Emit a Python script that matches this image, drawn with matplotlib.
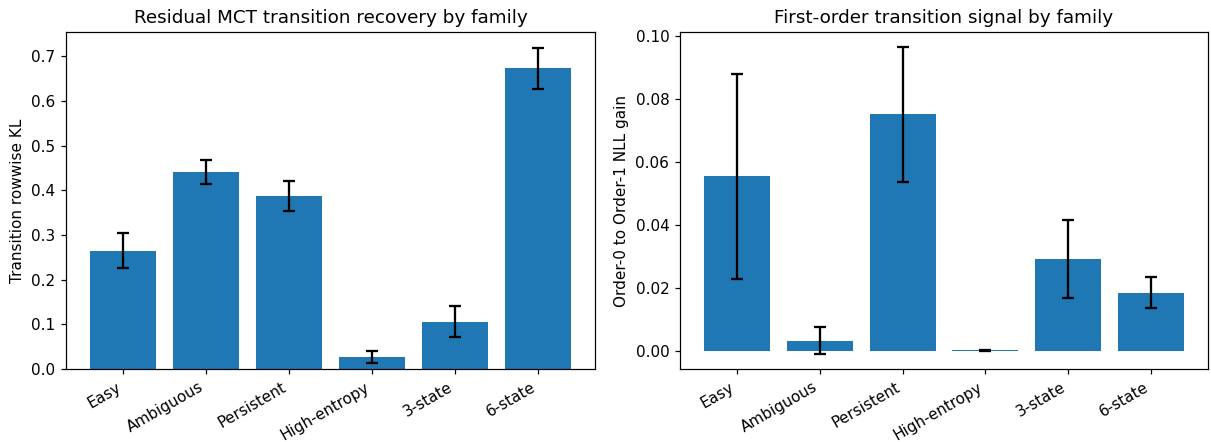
import matplotlib
matplotlib.use("Agg")
import matplotlib.pyplot as plt
import numpy as np

families = ["Easy", "Ambiguous", "Persistent", "High-entropy", "3-state", "6-state"]

kl_mean = [0.264, 0.441, 0.387, 0.0275, 0.106, 0.673]
kl_low = [0.226, 0.414, 0.353, 0.0134, 0.0715, 0.627]
kl_high = [0.304, 0.468, 0.421, 0.040, 0.142, 0.7186]

gain_mean = [0.0555, 0.0034, 0.0751, 0.0004, 0.0293, 0.0185]
gain_low = [0.0229, -0.0007, 0.0536, 0.0003, 0.0170, 0.0137]
gain_high = [0.0880, 0.0077, 0.0963, 0.0005, 0.0417, 0.0236]

W, H = 1211, 442
fig = plt.figure(figsize=(W / 110, H / 110), dpi=110)

def px_axes(x0, y0, x1, y1):
    return fig.add_axes([x0 / W, 1 - y1 / H, (x1 - x0) / W, (y1 - y0) / H])

ax_left = px_axes(66, 32, 595, 369)
ax_right = px_axes(680, 32, 1208, 369)

def draw(ax, mean, low, high, title, ylabel):
    x = np.arange(len(families))
    m = np.array(mean)
    yerr = np.vstack([m - np.array(low), np.array(high) - m])
    ax.bar(x, m, width=0.8, color="#1f77b4")
    ax.errorbar(x, m, yerr=yerr, fmt="none", ecolor="black",
                elinewidth=1.5, capsize=4, capthick=1.5)
    ax.set_xticks(x)
    ax.set_xticklabels(families, rotation=30, ha="right")
    ax.set_title(title)
    ax.set_ylabel(ylabel)

draw(ax_left, kl_mean, kl_low, kl_high,
     "Residual MCT transition recovery by family", "Transition rowwise KL")
draw(ax_right, gain_mean, gain_low, gain_high,
     "First-order transition signal by family", "Order-0 to Order-1 NLL gain")

fig.savefig("out.png", dpi=110)
